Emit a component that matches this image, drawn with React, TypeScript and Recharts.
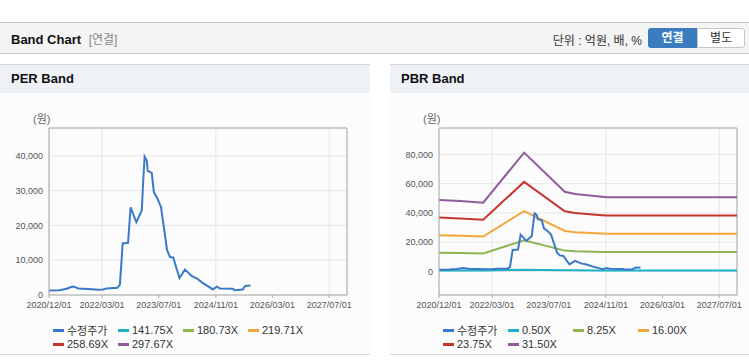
import { LineChart, Line, XAxis, YAxis, CartesianGrid, ReferenceLine } from 'recharts';

// 수정주가 (adjusted price)
const priceDates = [
  '2020/12/01', '2021/03/01', '2021/05/01', '2021/06/10', '2021/07/01', '2021/08/10',
  '2021/11/01', '2022/02/01', '2022/03/10', '2022/04/10', '2022/07/10', '2022/08/01',
  '2022/08/25', '2022/10/10', '2022/11/01', '2022/12/20', '2023/02/05', '2023/02/15',
  '2023/03/01', '2023/03/20', '2023/03/28', '2023/05/01', '2023/05/20', '2023/06/20',
  '2023/07/20', '2023/08/05', '2023/09/10', '2023/10/05', '2023/11/01', '2023/12/25',
  '2024/02/10', '2024/04/10', '2024/05/20', '2024/07/10', '2024/09/10', '2024/10/05',
  '2024/11/10', '2024/12/05', '2025/03/25', '2025/04/10', '2025/06/20', '2025/07/10',
  '2025/08/25',
];
const priceValues = [
  1300, 1350, 1800, 2300, 2400, 1900,
  1700, 1500, 1600, 1900, 2100, 2900,
  14800, 15000, 25200, 20900, 24300, 31400,
  39800, 38600, 35700, 35100, 29500, 27700,
  25200, 21400, 12900, 10900, 10800, 4900,
  7300, 5400, 4800, 3500, 2200, 1600,
  2400, 1900, 1800, 1400, 1600, 2600,
  2700,
];

// PBR band lines
const bandDates = [
  '2020/12/01', '2021/06/01', '2021/12/15', '2022/12/01', '2023/11/15',
  '2024/02/10', '2024/09/28', '2024/11/15', '2027/12/01',
];
const pbr050 = [780, 770, 750, 1290, 870, 840, 810, 800, 800];
const pbr825 = [12800, 12600, 12300, 21300, 14300, 13900, 13400, 13300, 13300];
const pbr1600 = [24800, 24500, 23900, 41200, 27700, 26900, 26000, 25800, 25800];
const pbr2375 = [36900, 36300, 35400, 61200, 41100, 40000, 38500, 38200, 38200];
const pbr3150 = [48900, 48200, 47000, 81200, 54500, 53000, 51100, 50700, 50700];

const perBandLabels = ['141.75X', '180.73X', '219.71X', '258.69X', '297.67X'];
const pbrBandLabels = ['0.50X', '8.25X', '16.00X', '23.75X', '31.50X'];
const bandColors = ['#1cb3c8', '#8db652', '#f1a83b', '#c7352a', '#8f5b9b'];
const priceColor = '#3a79c8';

const xTickDates = ['2020/12/01', '2022/03/01', '2023/07/01', '2024/11/01', '2026/03/01', '2027/07/01'];
const xEnd = '2027/12/01';
const perYTicks = [0, 10000, 20000, 30000, 40000];
const pbrYTicks = [0, 20000, 40000, 60000, 80000];

const FONT = "'Liberation Sans', Arial, 'Noto Sans CJK KR', sans-serif";

const toTs = (s: string) => {
  const [y, m, d] = s.split('/').map(Number);
  return Date.UTC(y, m - 1, d);
};
const fmtTs = (t: number) => {
  const d = new Date(t);
  const mm = String(d.getUTCMonth() + 1).padStart(2, '0');
  const dd = String(d.getUTCDate()).padStart(2, '0');
  return `${d.getUTCFullYear()}/${mm}/${dd}`;
};
const fmtNum = (v: number) => v.toLocaleString('en-US');

const priceRows = priceDates.map((d, i) => ({ t: toTs(d), price: priceValues[i] }));
const pbrBandValues = [pbr050, pbr825, pbr1600, pbr2375, pbr3150];
const pbrBandRows = bandDates.map((d, i) => {
  const row: Record<string, number> = { t: toTs(d) };
  pbrBandValues.forEach((vals, k) => {
    row['b' + k] = vals[i];
  });
  return row;
});

const xTicks = xTickDates.map(toTs);
const xDomain = [toTs(xTickDates[0]), toTs(xEnd)];

type PanelProps = {
  title: string;
  left: number;
  width: number;
  marginRight: number;
  yDomain: [number, number];
  yTicks: number[];
  bandLabels: string[];
  bandRows: Record<string, number>[] | null;
};

function BandPanel({ title, left, width, marginRight, yDomain, yTicks, bandLabels, bandRows }: PanelProps) {
  const legendItems = [{ label: '수정주가', color: priceColor }].concat(
    bandLabels.map((l, i) => ({ label: l, color: bandColors[i] }))
  );
  return (
    <div style={{ position: 'absolute', left, top: 64, width, height: 291 }}>
      <div style={{ position: 'absolute', left: 0, top: 0, width, height: 1, background: '#d6d6d6' }} />
      <div
        style={{
          position: 'absolute', left: 0, top: 1, width, height: 28, background: '#eef2f7',
          fontWeight: 'bold', fontSize: 13, lineHeight: '28px', paddingLeft: 11, boxSizing: 'border-box', color: '#111',
        }}
      >
        {title}
      </div>
      <div style={{ position: 'absolute', left: 0, top: 29, width, height: 261, background: '#fcfcfc' }} />
      <div style={{ position: 'absolute', left: 0, top: 290, width, height: 1, background: '#d6d6d6' }} />
      <div style={{ position: 'absolute', left: 33, top: 46, fontSize: 11, color: '#666' }}>(원)</div>
      <div style={{ position: 'absolute', left: 0, top: 30 }}>
        <LineChart width={width} height={222} margin={{ top: 34, right: marginRight, left: 0, bottom: 0 }}>
          <CartesianGrid stroke="#e6e6e6" />
          <XAxis
            dataKey="t"
            type="number"
            domain={xDomain}
            ticks={xTicks}
            tickFormatter={fmtTs}
            allowDataOverflow
            height={21}
            tick={{ fontSize: 9, fill: '#555', fontFamily: FONT }}
            tickLine={{ stroke: '#aaa' }}
            tickSize={3}
            tickMargin={4}
            axisLine={{ stroke: '#aaa' }}
          />
          <YAxis
            type="number"
            domain={yDomain}
            ticks={yTicks}
            allowDataOverflow
            tickFormatter={fmtNum}
            width={49}
            tick={{ fontSize: 9, fill: '#555', fontFamily: FONT }}
            tickLine={false}
            tickSize={0}
            tickMargin={6}
            axisLine={{ stroke: '#aaa' }}
          />
          <ReferenceLine y={yDomain[1]} stroke="#aaa" />
          <ReferenceLine x={xDomain[1]} stroke="#aaa" />
          {bandRows &&
            bandLabels.map((l, k) => (
              <Line
                key={l}
                data={bandRows}
                dataKey={'b' + k}
                stroke={bandColors[k]}
                strokeWidth={2}
                dot={false}
                isAnimationActive={false}
              />
            ))}
          <Line
            data={priceRows}
            dataKey="price"
            stroke={priceColor}
            strokeWidth={2}
            dot={false}
            isAnimationActive={false}
          />
        </LineChart>
      </div>
      {legendItems.map((it, i) => (
        <div
          key={it.label}
          style={{
            position: 'absolute',
            left: 53 + (i % 4) * 65,
            top: 259 + Math.floor(i / 4) * 14,
            height: 14,
            display: 'flex',
            alignItems: 'center',
            fontSize: 11,
            color: '#333',
            whiteSpace: 'nowrap',
          }}
        >
          <span style={{ display: 'inline-block', width: 11, height: 3, background: it.color, marginRight: 3 }} />
          {it.label}
        </div>
      ))}
    </div>
  );
}

export default function App() {
  return (
    <div style={{ position: 'absolute', left: 0, top: 0, width: 749, height: 364, background: '#fff', fontFamily: FONT, overflow: 'hidden' }}>
      <div style={{ position: 'absolute', left: 0, top: 22, width: 749, height: 1, background: '#c4c4c4' }} />
      <div style={{ position: 'absolute', left: 0, top: 23, width: 749, height: 30, background: '#f4f4f4' }} />
      <div style={{ position: 'absolute', left: 0, top: 53, width: 749, height: 1, background: '#cfcfcf' }} />
      <div style={{ position: 'absolute', left: 11, top: 30, fontSize: 13, fontWeight: 'bold', color: '#111' }}>
        Band Chart <span style={{ fontWeight: 'normal', fontSize: 12, color: '#888', marginLeft: 4 }}>[연결]</span>
      </div>
      <div style={{ position: 'absolute', right: 107, top: 31, fontSize: 12, color: '#333' }}>단위 : 억원, 배, %</div>
      <div
        style={{
          position: 'absolute', left: 648, top: 28, width: 49, height: 20, background: '#3b7bc0', color: '#fff',
          fontSize: 12, fontWeight: 'bold', textAlign: 'center', lineHeight: '20px', borderRadius: '3px 0 0 3px',
        }}
      >
        연결
      </div>
      <div
        style={{
          position: 'absolute', left: 697, top: 28, width: 48, height: 20, background: '#fff', color: '#333',
          fontSize: 12, textAlign: 'center', lineHeight: '18px', border: '1px solid #c6c6c6', boxSizing: 'border-box',
          borderRadius: '0 3px 3px 0',
        }}
      >
        별도
      </div>
      <BandPanel
        title="PER Band"
        left={0}
        width={370}
        marginRight={23}
        yDomain={[0, 48000]}
        yTicks={perYTicks}
        bandLabels={perBandLabels}
        bandRows={null}
      />
      <BandPanel
        title="PBR Band"
        left={390}
        width={359}
        marginRight={12}
        yDomain={[-16000, 98000]}
        yTicks={pbrYTicks}
        bandLabels={pbrBandLabels}
        bandRows={pbrBandRows}
      />
    </div>
  );
}
